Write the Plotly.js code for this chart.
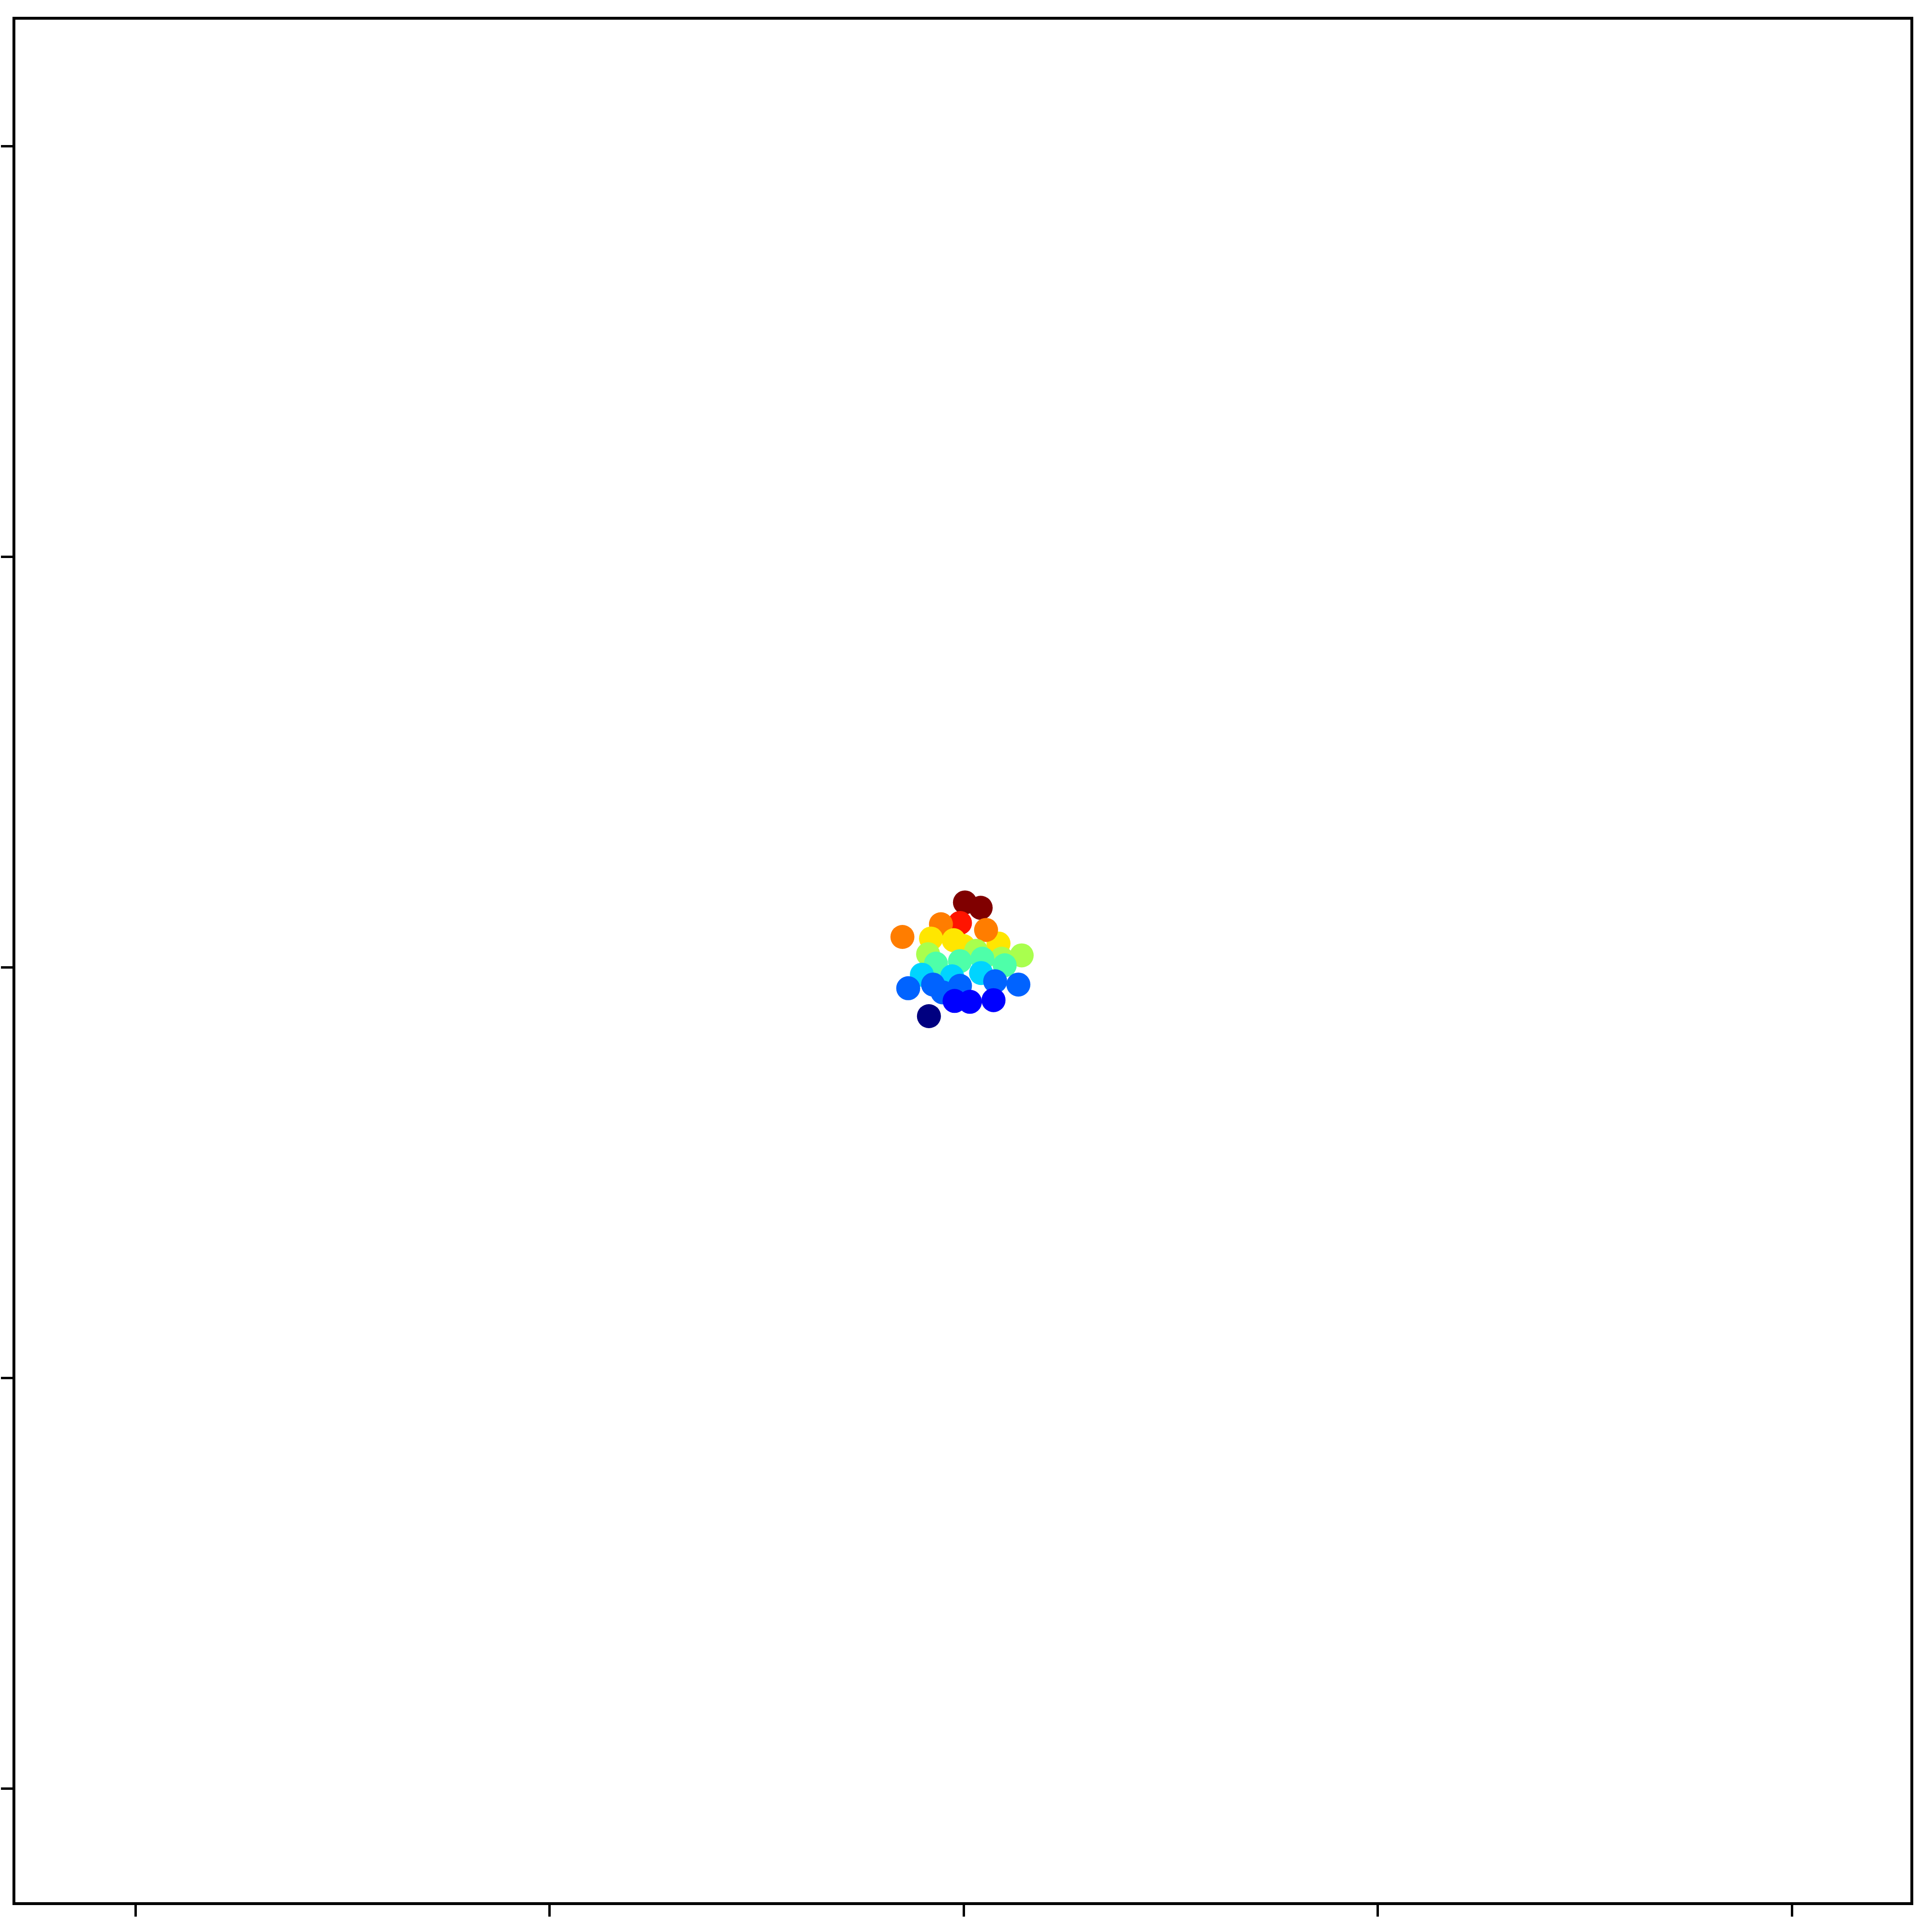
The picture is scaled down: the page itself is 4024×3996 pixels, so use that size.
<!DOCTYPE html>
<html>
<head>
<meta charset="utf-8">
<script src="https://cdn.plot.ly/plotly-3.0.1.min.js"></script>
<style>html,body{margin:0;padding:0;background:#fff;}#chart{width:4024px;height:3996px;}</style>
</head>
<body>
<div id="chart"></div>
<script>
// Point positions (data units) and colour levels (0 = lowest, 9 = highest)
const xVals = [0.003, 0.041, -0.009, -0.055, -0.148, -0.079, -0.024, -0.001, 0.084, 0.054,
  0.140, -0.086, 0.030, 0.092, -0.067, -0.009, 0.045, 0.099, -0.101, -0.028, 0.042,
  -0.134, -0.074, -0.051, -0.009, 0.076, 0.132, -0.022, 0.015, 0.072, -0.084];
const yVals = [0.158, 0.145, 0.108, 0.105, 0.074, 0.070, 0.066, 0.052, 0.058, 0.091,
  0.029, 0.032, 0.040, 0.021, 0.009, 0.015, 0.021, 0.005, -0.018, -0.022, -0.014,
  -0.051, -0.042, -0.061, -0.045, -0.034, -0.042, -0.082, -0.084, -0.080, -0.119];
const levels = [9, 9, 8, 7, 7, 6, 6, 6, 6, 7,
  5, 5, 5, 5, 4, 4, 4, 4, 3, 3, 3,
  2, 2, 2, 2, 2, 2, 1, 1, 1, 0];
const tickVals = [-2, -1, 0, 1, 2];

// matplotlib "jet" colormap segments
const jetR = [[0,0],[0.35,0],[0.66,1],[0.89,1],[1,0.5]];
const jetG = [[0,0],[0.125,0],[0.375,1],[0.64,1],[0.91,0],[1,0]];
const jetB = [[0,0.5],[0.11,1],[0.34,1],[0.65,0],[1,0]];
function seg(s, t){
  for(let i=1;i<s.length;i++){
    if(t<=s[i][0]){const a=s[i-1],b=s[i];return a[1]+(b[1]-a[1])*(t-a[0])/(b[0]-a[0]);}
  }
  return s[s.length-1][1];
}
const jet = [];
for(let i=0;i<=100;i++){
  const t=i/100;
  jet.push([t,'rgb('+Math.round(255*seg(jetR,t))+','+Math.round(255*seg(jetG,t))+','+Math.round(255*seg(jetB,t))+')']);
}

const trace = {
  type:'scatter', mode:'markers', x:xVals, y:yVals,
  marker:{size:50, color:levels, colorscale:jet, cmin:0, cmax:9, showscale:false, line:{width:0}},
  hoverinfo:'none'
};
const axisCommon = {
  showgrid:false, zeroline:false, showticklabels:false,
  showline:true, mirror:true, linecolor:'#000', linewidth:6,
  ticks:'outside', ticklen:24, tickwidth:5, tickcolor:'#000',
  tickmode:'array', tickvals:tickVals
};
const layout = {
  width:4024, height:3996,
  margin:{l:32, r:45, t:41, b:35},
  paper_bgcolor:'#fff', plot_bgcolor:'#fff',
  showlegend:false,
  xaxis:Object.assign({range:[-2.290, 2.286]}, axisCommon),
  yaxis:Object.assign({range:[-2.277, 2.308]}, axisCommon)
};
Plotly.newPlot('chart',[trace],layout,{staticPlot:true});
</script>
</body>
</html>
